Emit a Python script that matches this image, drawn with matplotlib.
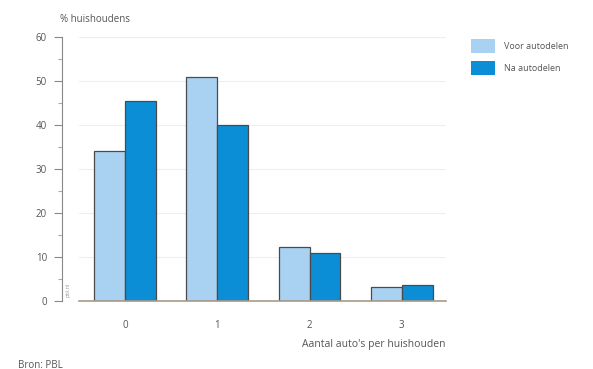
import matplotlib
matplotlib.use("Agg")
import matplotlib.pyplot as plt
import numpy as np
from matplotlib.patches import Patch

categories = ["0", "1", "2", "3"]
voor = [34.0, 51.0, 12.2, 3.2]
na = [45.5, 40.0, 11.0, 3.6]
series_labels = ["Voor autodelen", "Na autodelen"]
yticks = [0, 10, 20, 30, 40, 50, 60]

plt.rcParams['font.family'] = ['Open Sans', 'DejaVu Sans']
txt = '#555555'
light = '#a9d1f2'
dark = '#0b8ed6'
edge = '#4a4a4a'

fig = plt.figure(figsize=(5.93, 3.69), dpi=100)
ax = fig.add_axes([79/593, 68/369, 367/593, 264/369])
x = np.arange(len(categories))
w = 0.335
ax.bar(x - w/2, voor, w, color=light, edgecolor=edge, linewidth=0.9, zorder=3)
ax.bar(x + w/2, na, w, color=dark, edgecolor=edge, linewidth=0.9, zorder=3)
ax.set_xlim(-0.5, 3.48)
ax.set_ylim(0, 60)
ax.set_yticks(yticks)
ax.set_yticks(np.arange(5, 60, 10), minor=True)
ax.set_xticks(x)
ax.set_xticklabels(categories)
ax.tick_params(axis='x', length=0, pad=14, labelsize=7, colors=txt)
ax.tick_params(axis='y', which='major', length=6, width=0.8, color='#888888', labelsize=7, labelcolor=txt, pad=5)
ax.tick_params(axis='y', which='minor', length=3, width=0.8, color='#aaaaaa')
for s in ['top', 'right']:
    ax.spines[s].set_visible(False)
ax.spines['left'].set_position(('outward', 12))
ax.spines['left'].set_color('#888888')
ax.spines['left'].set_linewidth(0.8)
ax.spines['bottom'].set_color('#a89a88')
ax.spines['bottom'].set_linewidth(1.2)
ax.spines['bottom'].set_zorder(4)
ax.yaxis.grid(True, which='major', color='#eeeeee', linewidth=0.8, zorder=0)

fig.text(60/593, 1 - 20/369, "% huishoudens", fontsize=7, color=txt, va='center', ha='left')
fig.text(446/593, 1 - 344/369, "Aantal auto's per huishouden", fontsize=7.5, color=txt, va='center', ha='right')
fig.text(18/593, 1 - 365/369, "Bron: PBL", fontsize=7, color=txt, va='center', ha='left')
fig.text(68/593, 1 - 290/369, "pbl.nl", fontsize=4, color='#999999', rotation=90, va='center', ha='center')

handles = [Patch(facecolor=light, edgecolor='none'), Patch(facecolor=dark, edgecolor='none')]
fig.legend(handles, series_labels, loc='upper left', bbox_to_anchor=(463/593, 1 - 31/369),
           frameon=False, fontsize=6.5, labelcolor=txt, handlelength=2.6, handleheight=2.0,
           labelspacing=0.9, handletextpad=1.0)

fig.savefig("out.png", dpi=100)
